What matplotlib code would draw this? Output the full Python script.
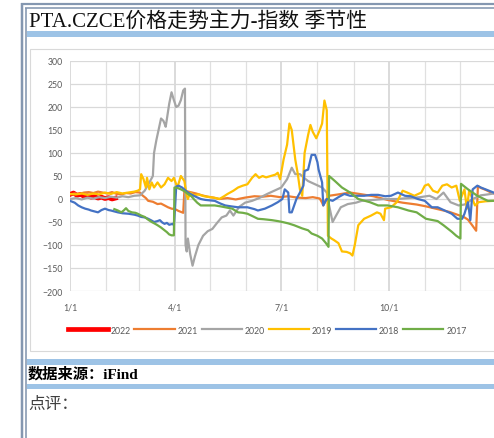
import matplotlib.pyplot as plt
from matplotlib.patches import Rectangle
from matplotlib.lines import Line2D

# day-of-year, value pairs
days_2022 = [0, 3, 6, 9, 12, 15, 18, 21, 24, 27, 30, 33, 36, 39]
vals_2022 = [10, 13, 8, 10, 6, 7, 4, 5, 2, 4, 1, 3, 0, 2]

days_2021 = [0, 4, 8, 12, 16, 20, 24, 28, 32, 36, 40, 44, 48, 52, 56, 60, 62, 65, 67, 71, 75, 78, 81, 84, 87, 90, 93, 97,
             98, 103, 108, 113, 118, 123, 128, 135, 142, 150, 158, 165, 172, 180, 187, 195, 202, 208, 214, 216, 217, 219,
             222, 230, 240, 248, 260, 272, 285, 297, 305, 315, 325, 334, 338, 341, 344, 348, 349.5, 352, 356, 360, 363]
vals_2021 = [10, 12, 11, 14, 15, 13, 16, 14, 12, 15, 11, 10, 13, 12, 15, 14, 8, 2, -4, -6, -11, -10, -14, -18, -21, -22, -26, -30,
             18, 15, 12, 8, 5, 3, 0, 2, -1, 3, 6, 5, 7, 4, 6, 3, 2, 4, 1, -8, -14, -3,
             7, 10, 14, 11, 6, -2, -8, -12, -16, -22, -28, -36, -40, -45, -55, -69, 28, 24, 20, 15, 12]

days_2020 = [0, 5, 10, 15, 20, 25, 30, 35, 40, 45, 50, 55, 60, 64, 68, 71, 72, 74, 78, 80, 81, 82, 85, 87, 89, 91, 93, 95, 97,
             98.5, 99, 100, 101, 103, 105, 107, 110, 114, 118, 122, 126, 130, 134, 137, 140, 145, 150, 156, 162, 169, 175,
             181, 186, 190, 193, 197, 201, 204, 210, 216, 220, 222, 225, 228, 232, 238, 245, 250, 260, 270, 280, 290, 300,
             308, 314, 320, 326, 333, 338, 345, 352, 358, 363]
vals_2020 = [0, 2, -1, 3, 1, 4, 2, 5, 3, 6, 4, 7, 8, 18, 36, 50, 100, 128, 175, 170, 164, 157, 207, 232, 215, 200, 203, 215, 236,
             240, -100, -114, -86, -120, -145, -125, -100, -80, -70, -65, -52, -40, -36, -25, -36, -17, -8, -4, 2, 11, 18,
             25, 43, 68, 54, 54, 45, 39, 32, 25, 14, -14, -50, -36, -18, -11, -8, -4, -2, 0, 0, 2, 4,
             7, 0, 14, -7, -14, -12, 0, 8, 10, 12]

days_2019 = [0, 5, 10, 15, 20, 25, 30, 35, 40, 45, 50, 55, 58, 60, 61, 63, 65, 66, 68, 70, 72, 75, 78, 81, 84, 87, 89, 92, 95,
             98, 100, 101, 103, 106, 110, 115, 120, 125, 128, 132, 135, 140, 144, 148, 152, 156, 159, 162, 165, 168, 172,
             176, 178, 180, 183, 186, 188, 190, 193, 195, 197, 199, 201, 204, 206, 208, 211, 214, 216, 218, 220, 221, 224,
             226, 230, 233, 237, 240, 242, 244, 247, 252, 258, 263, 266, 269, 270, 275, 280, 285, 289, 295, 301, 304, 307,
             311, 315, 319, 323, 327, 331, 334, 338, 340, 342, 347, 350, 356, 363]
vals_2019 = [11, 10, 12, 9, 12, 10, 14, 11, 15, 12, 14, 16, 18, 21, 54, 43, 25, 46, 21, 36, 25, 36, 25, 32, 46, 39, 46, 25, 50,
             39, 7, 0, 14, 8, 10, 6, 4, 2, 0, 6, 11, 18, 25, 29, 32, 46, 54, 46, 50, 47, 50,
             53, 57, 43, 86, 118, 164, 150, 86, 57, 21, 7, 100, 139, 161, 146, 132, 150, 164, 214, 193, -80, -86,
             -89, -96, -114, -115, -118, -123, -100, -57, -43, -36, -29, -32, -46, -21, -18, -7, 18, 14, 7, 14, 29, 32,
             18, 14, 29, 32, 25, 29, -4, 21, -21, 18, -14, -7, -5, -4]

days_2018 = [0, 4, 7, 10, 13, 16, 18, 21, 24, 27, 30, 33, 35, 38, 41, 45, 50, 55, 58, 61, 64, 67, 70, 72, 75, 77, 79, 81, 83,
             85, 88, 89, 90, 91, 93, 96, 101, 106, 112, 116, 120, 124, 129, 133, 138, 144, 152, 158, 161, 164, 167, 173,
             178, 182, 184, 187, 188, 190, 194, 197, 200, 201, 204, 207, 210, 212, 213, 216, 217, 220, 225, 230, 235, 240,
             245, 252, 258, 264, 270, 275, 281, 287, 292, 298, 304, 310, 315, 321, 327, 332, 336, 338, 341, 343, 345, 349,
             352, 356, 363]
vals_2018 = [-4, -8, -14, -18, -21, -23, -25, -27, -29, -24, -21, -24, -25, -27, -29, -31, -32, -34, -36, -39, -40, -43, -47,
             -50, -48, -46, -51, -54, -52, -56, -54, -57, -20, 27, 29, 25, 14, 7, 0, -2, -3, -4, -10, -14, -16, -18, -18,
             -22, -25, -23, -21, -14, -7, 0, 21, 14, -29, -29, 0, 14, 29, 61, 64, 96, 96, 80, 64, 36, -14, 0, -4, 4, 11,
             7, 7, 7, 9, 9, 6, 7, 14, 7, 6, 0, -4, -18, -18, -25, -32, -43, -43, -32, -7, -46, 21, 29, 25, 21, 14]

days_2017 = [38, 41, 44, 46, 48, 50, 53, 56, 58, 61, 64, 67, 70, 73, 75, 78, 81, 83, 85, 87, 89, 89.5, 92, 95, 98, 101, 104,
             106, 109, 112, 116, 120, 124, 129, 133, 137, 139, 144, 148, 152, 157, 161, 166, 173, 178, 182, 187, 192, 199,
             204, 207, 212, 216, 219, 221.5, 222, 227, 233, 240, 247, 257, 264, 272, 281, 290, 297, 305, 315, 320, 327,
             331, 334.5, 335, 341, 349, 358, 363]
vals_2017 = [-22, -25, -29, -25, -20, -26, -29, -30, -32, -36, -39, -45, -50, -54, -57, -62, -68, -72, -77, -79, -79, 25, 24,
             21, 17, 11, 6, 0, -8, -14, -14, -14, -14, -16, -18, -20, -21, -29, -30, -32, -38, -43, -44, -46, -48, -50,
             -53, -57, -64, -68, -75, -80, -86, -95, -104, 50, 39, 25, 14, 0, -7, -14, -14, -18, -25, -29, -43, -48,
             -57, -71, -80, -86, 33, 21, 7, -4, -4]

series = [
    ("2022", days_2022, vals_2022, "#ff0000", 3.4),
    ("2021", days_2021, vals_2021, "#ed7d31", 1.6),
    ("2020", days_2020, vals_2020, "#a5a5a5", 1.6),
    ("2019", days_2019, vals_2019, "#ffc000", 1.6),
    ("2018", days_2018, vals_2018, "#4472c4", 1.6),
    ("2017", days_2017, vals_2017, "#70ad47", 1.6),
]

tick_days = [0, 90, 181, 273]
tick_labels = ["1/1", "4/1", "7/1", "10/1"]
month_days = [0, 31, 59, 90, 120, 151, 181, 212, 243, 273, 304, 334, 365]
y_ticks = list(range(-200, 301, 50))

W, H = 494, 439
fig = plt.figure(figsize=(W / 100, H / 100), dpi=100)

# page decoration in pixel coordinates
bg = fig.add_axes([0, 0, 1, 1])
bg.set_xlim(0, W)
bg.set_ylim(H, 0)
bg.axis("off")
slate = "#8497b0"
band = "#9dc3e6"
bg.plot([21, W], [5, 5], color=slate, lw=2.2 * 0.72, solid_capstyle="butt")
bg.plot([22, 22], [4, H], color=slate, lw=2.5 * 0.72, solid_capstyle="butt")
bg.plot([25, W], [9, 9], color=slate, lw=1.6 * 0.72, solid_capstyle="butt")
bg.plot([25.8, 25.8], [8.5, H], color=slate, lw=1.6 * 0.72, solid_capstyle="butt")
bg.add_patch(Rectangle((26.5, 31.5), W, 6, color=band, lw=0))
bg.add_patch(Rectangle((30, 50), 480, 302, facecolor="white", edgecolor="#d9d9d9", lw=0.8))
bg.add_patch(Rectangle((26.5, 360), W, 6, color=band, lw=0))
bg.add_patch(Rectangle((26.5, 385), W, 5, color=band, lw=0))

bg.text(29, 22, "PTA.CZCE价格走势主力-指数 季节性", fontsize=15, va="center", ha="left",
        family=["Liberation Serif", "Noto Sans CJK SC"], color="#111111", fontweight="light")
bg.text(28, 374, "数据来源：iFind", fontsize=11, va="center", ha="left", fontweight="bold",
        family=["Liberation Serif", "Noto Sans CJK SC"], color="black")
bg.text(28, 404, "点评：", fontsize=12, va="center", ha="left",
        family=["Noto Sans CJK SC", "DejaVu Sans"], color="#404040")

# chart
ax = fig.add_axes([70 / W, 1 - 292 / H, 426 / W, 230 / H])
ax.patch.set_visible(False)
for name, d, v, c, lw in series:
    ax.plot(d, v, color=c, lw=lw, label=name)

ax.set_xlim(0, 365)
ax.set_ylim(-200, 300)
ax.set_yticks(y_ticks)
ax.set_xticks(tick_days)
ax.set_xticklabels(tick_labels)
ax.set_xticks(month_days, minor=True)
for s in ax.spines.values():
    s.set_visible(False)
ax.tick_params(length=0, which="both", labelsize=6.3, labelcolor="#595959")
ax.tick_params(axis="x", pad=8)
ax.tick_params(axis="y", pad=5)
for lab in ax.get_xticklabels() + ax.get_yticklabels():
    lab.set_family("Lato")
ax.grid(axis="y", color="#d9d9d9", lw=0.9)
ax.grid(axis="x", which="major", color="#d4d4d4", lw=1.2)
ax.grid(axis="x", which="minor", color="#e0e0e0", lw=0.9)
ax.set_axisbelow(True)

handles = [Line2D([], [], color=c, lw=(3.4 if n == "2022" else 1.6)) for n, d, v, c, lw in series]
fig.legend(handles, [s[0] for s in series], loc="center", bbox_to_anchor=(267 / W, 1 - 331 / H),
           ncol=6, frameon=False, handlelength=4.6, handletextpad=0.35, columnspacing=0.4,
           prop={"family": "Lato", "size": 6.3}, labelcolor="#595959")

fig.savefig("out.png", dpi=100)
